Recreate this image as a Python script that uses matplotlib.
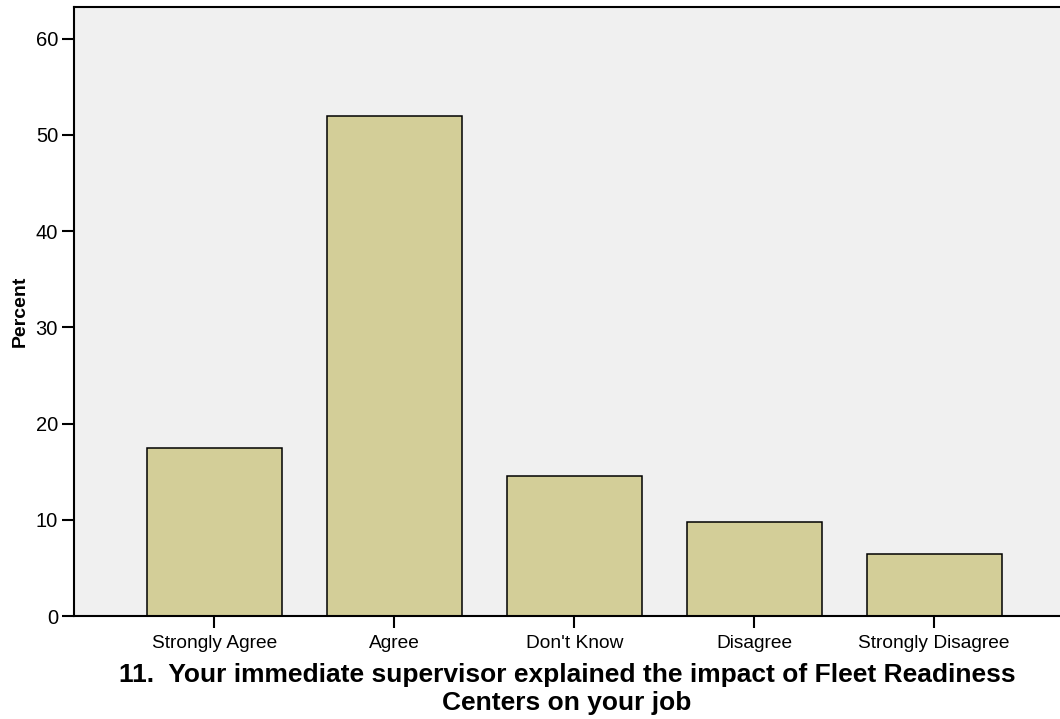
import matplotlib
matplotlib.use("Agg")
import matplotlib.pyplot as plt

categories = ["Strongly Agree", "Agree", "Don't Know", "Disagree", "Strongly Disagree"]
percent = [17.5, 52.0, 14.5, 9.8, 6.4]
y_ticks = [0, 10, 20, 30, 40, 50, 60]

plt.rcParams['font.family'] = ['Liberation Sans', 'DejaVu Sans']

fig = plt.figure(figsize=(10.6, 7.19), dpi=100)
ax = fig.add_axes([74 / 1060, 103 / 719, 1 - 74 / 1060, 609 / 719])
ax.set_facecolor('#f0f0f0')

x = range(len(categories))
ax.bar(x, percent, width=0.75, color='#d3ce98', edgecolor='black', linewidth=1.1, zorder=2)

ax.set_xlim(-0.78, 4.70)
ax.set_ylim(0, 63.3)
ax.set_xticks(list(x))
ax.set_xticklabels(categories, fontsize=13.8)
ax.set_yticks(y_ticks)
ax.set_yticklabels([str(v) for v in y_ticks], fontsize=14.5)
ax.tick_params(axis='both', length=8.5, width=1.5, color='black', pad=3)
ax.tick_params(axis='x', pad=5)

ax.spines['right'].set_visible(False)
for s in ['left', 'top', 'bottom']:
    ax.spines[s].set_linewidth(1.5)

ax.set_ylabel('Percent', fontsize=14, fontweight='bold', labelpad=5)
ax.set_xlabel('11.  Your immediate supervisor explained the impact of Fleet Readiness\nCenters on your job',
              fontsize=19, fontweight='bold', labelpad=8, linespacing=1.2)

fig.savefig('out.png', dpi=100)
